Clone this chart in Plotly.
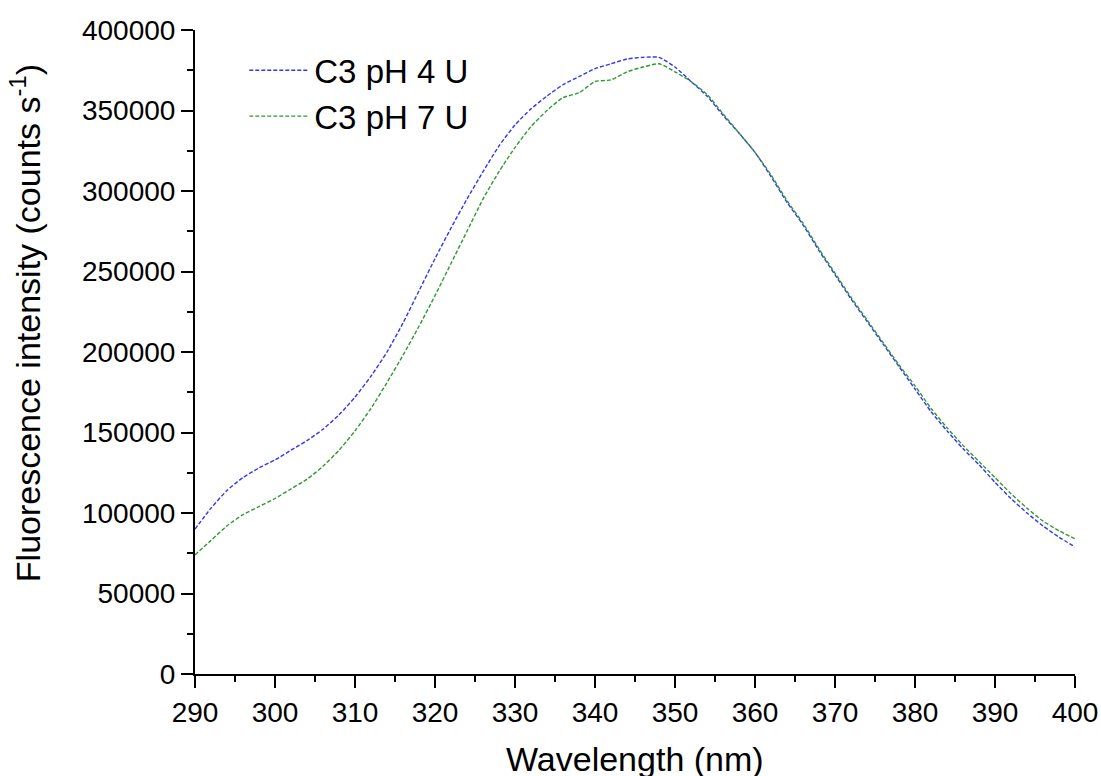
import plotly.graph_objects as go

wavelength = [290, 292, 294, 296, 298, 300, 302, 304, 306, 308, 310, 312, 314, 316, 318, 320,
              322, 324, 326, 328, 330, 332, 334, 336, 338, 340, 342, 344, 346, 348, 350, 352,
              354, 356, 358, 360, 362, 364, 366, 368, 370, 372, 374, 376, 378, 380, 382, 384,
              386, 388, 390, 392, 394, 396, 398, 400]

ph4 = [90000, 103000, 114000, 122000, 128000, 133000, 139000, 145000, 152000, 161000, 172000,
       185000, 200000, 218000, 238000, 258000, 277000, 295000, 312000, 328000, 341000, 351000,
       359000, 366000, 371000, 376000, 379000, 382000, 383000, 383000, 377000, 368000,
       359000, 347000, 336000, 324000, 309000, 293000, 279000, 263000, 248000, 233000,
       219000, 205000, 191000, 177000, 163000, 151000, 140000, 130000, 119000, 109000,
       100000, 92000, 85000, 79000]

ph7 = [74000, 83000, 92000, 99000, 104000, 109000, 115000, 121000, 129000, 139000, 151000,
       165000, 181000, 198000, 216000, 235000, 255000, 275000, 295000, 312000, 327000, 340000,
       350000, 358000, 361000, 368000, 369000, 374000, 377000, 379000, 374000, 368000,
       360000, 348000, 336000, 324000, 310000, 294000, 280000, 264000, 249000, 234000,
       220000, 206000, 192000, 179000, 165000, 153000, 142000, 132000, 122000, 112000,
       103000, 95000, 89000, 84000]

series_names = ["C3 pH 4 U", "C3 pH 7 U"]
series_colors = ["#3333ff", "#2e9a2e"]

FONT = "Liberation Sans, Arial, sans-serif"

fig = go.Figure()
for name, vals, col in zip(series_names, [ph4, ph7], series_colors):
    fig.add_trace(go.Scatter(x=wavelength, y=vals, mode="lines", name=name,
                             line=dict(color=col, width=1.4, dash="4px,2px",
                                       shape="spline", smoothing=0.6)))

axis_common = dict(showline=True, linecolor="black", linewidth=2, ticks="outside",
                   ticklen=12, tickwidth=2, tickcolor="black", showgrid=False, zeroline=False,
                   automargin=False,
                   tickfont=dict(family=FONT, size=28, color="black"))

fig.update_xaxes(range=[290, 400], tickmode="linear", tick0=290, dtick=10, tickformat="d",
                 minor=dict(ticks="outside", ticklen=6, tickwidth=2, tickcolor="black", dtick=5),
                 **axis_common)
fig.update_yaxes(range=[0, 400000], tickmode="linear", tick0=0, dtick=50000, tickformat="d",
                 minor=dict(ticks="outside", ticklen=6, tickwidth=2, tickcolor="black", dtick=25000),
                 **axis_common)

fig.update_layout(
    width=1101, height=776,
    margin=dict(l=195, r=26, t=30, b=102),
    plot_bgcolor="white", paper_bgcolor="white",
    font=dict(family=FONT, color="black"),
    legend=dict(x=0.056, y=0.981, xanchor="left", yanchor="top", bgcolor="rgba(0,0,0,0)",
                font=dict(size=33, family=FONT), tracegroupgap=0, itemwidth=60),
    annotations=[
        dict(text="Wavelength (nm)", x=0.5, y=-0.1, xref="paper", yref="paper",
             xanchor="center", yanchor="top", showarrow=False,
             font=dict(size=34, family=FONT)),
        dict(text="Fluorescence intensity (counts s<sup>-1</sup>)", x=-0.193, y=0.545,
             xref="paper", yref="paper", xanchor="center", yanchor="middle", textangle=-90,
             showarrow=False, font=dict(size=34, family=FONT)),
    ],
)

fig.write_html("out.html", config={"displayModeBar": False},
               post_script="document.body.style.margin='0';document.body.style.overflow='hidden';")
